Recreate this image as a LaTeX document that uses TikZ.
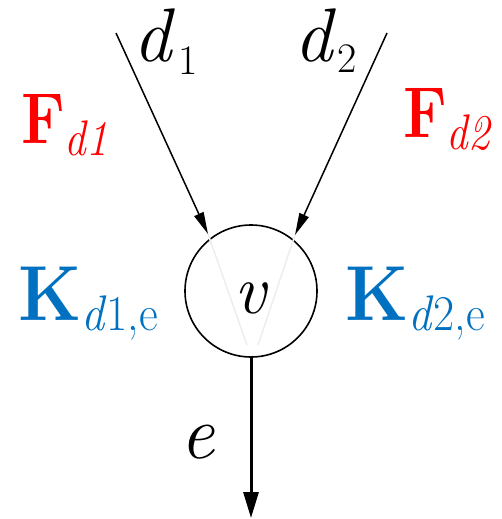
\documentclass[tikz,border=0pt]{standalone}
\usepackage{fontspec}
\usepackage{graphicx}
\usetikzlibrary{arrows.meta}
\definecolor{fred}{HTML}{FF0000}
\definecolor{kblue}{HTML}{0070C0}
\begin{document}
\begin{tikzpicture}[x=1pt,y=-1pt,
  lbl/.style={inner sep=0pt,outer sep=0pt,anchor=base west},
  slant/.style={line width=1.5pt,-{Triangle[length=22pt,width=10pt]}},
  down/.style={line width=3pt,-{Triangle[length=26pt,width=15pt]}},
  vertex/.style={circle,draw,line width=1.6pt,minimum size=132pt,inner sep=0pt},
  faint/.style={draw=black!7,line width=1.5pt}]
\useasboundingbox (0,0) rectangle (502,519);
\node[vertex] (v) at (251,291) {};
\node[lbl] (vtxt) at (234,313) {\fontsize{70}{70}\selectfont\itshape v};
\coordinate (s1) at (116,33);
\coordinate (t1) at (208,234);
\coordinate (s2) at (387,33);
\coordinate (t2) at (295,235);
\coordinate (f1) at (247,345);
\coordinate (f2) at (258,345);
\coordinate (eend) at (251,518);
\draw[faint] (t1) -- (f1);
\draw[faint] (t2) -- (f2);
\draw[slant] (s1) -- (t1);
\draw[slant] (s2) -- (t2);
\draw[down] (v.south) -- (eend);
\node[lbl] (d1) at (133,62) {\fontsize{76}{76}\selectfont\textit{d}\kern4pt\raisebox{-13pt}{\fontsize{42}{42}\selectfont 1}};
\node[lbl] (d2) at (294,62) {\fontsize{76}{76}\selectfont\textit{d}\kern2pt\raisebox{-10pt}{\fontsize{42}{42}\selectfont 2}};
\node[lbl,text=fred] (F1) at (21,143) {\scalebox{0.86}[1]{\fontsize{72}{72}\selectfont\textbf{F}\raisebox{-12pt}{\fontsize{50}{50}\selectfont\itshape d1}}};
\node[lbl,text=fred] (F2) at (403,137) {\scalebox{0.86}[1]{\fontsize{72}{72}\selectfont\textbf{F}\raisebox{-12pt}{\fontsize{50}{50}\selectfont\itshape d2}}};
\node[lbl,text=kblue] (K1) at (18,320) {\scalebox{0.92}[1]{\fontsize{78}{78}\selectfont\textbf{K}\raisebox{-10pt}{\fontsize{50}{50}\selectfont\textit{d}1,e}}};
\node[lbl,text=kblue] (K2) at (345,320) {\scalebox{0.92}[1]{\fontsize{78}{78}\selectfont\textbf{K}\raisebox{-10pt}{\fontsize{50}{50}\selectfont\textit{d}2,e}}};
\node[lbl] (elbl) at (180,458) {\fontsize{76}{76}\selectfont\itshape e};
\end{tikzpicture}
\end{document}
